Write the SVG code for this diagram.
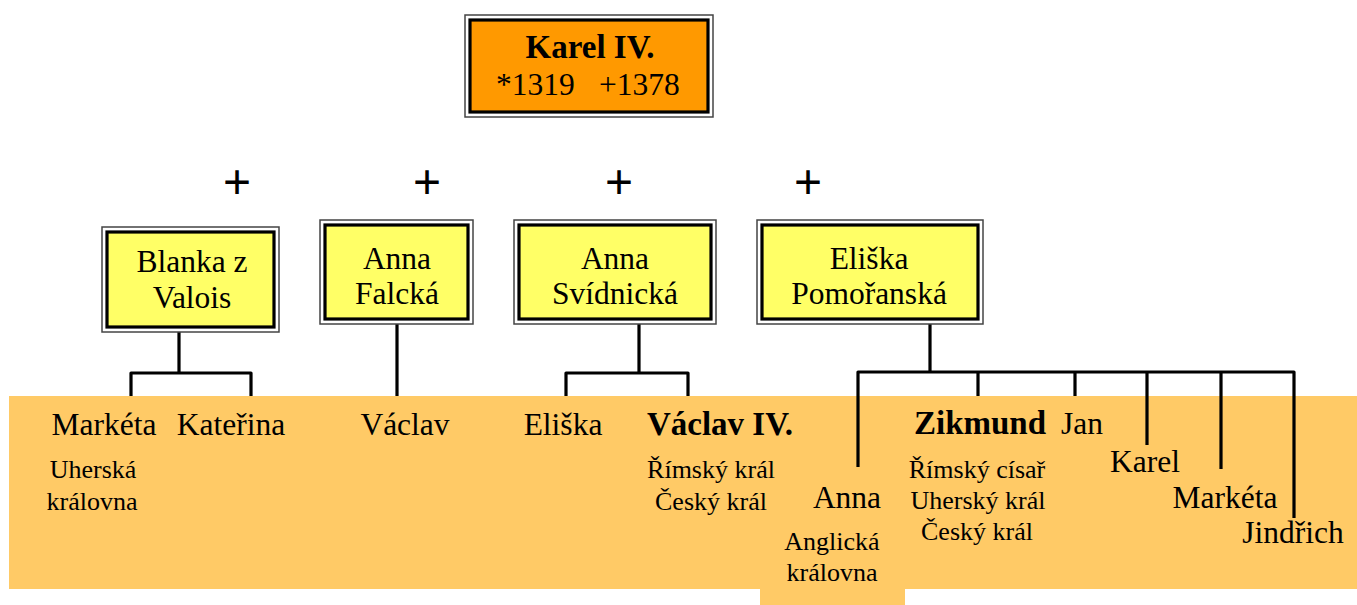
<svg xmlns="http://www.w3.org/2000/svg" width="1357" height="605" viewBox="0 0 1357 605">
<style>
.outer{fill:#fff;stroke:#444;stroke-width:1.5}
.inner{stroke:#000;stroke-width:3.2}
.yel{fill:#FFFF66}
.org{fill:#FF9900}
.t{font-family:"Liberation Serif","Times New Roman",serif;fill:#000;text-anchor:middle}
.big{font-size:31.5px}
.bigb{font-size:33px;font-weight:bold}
.box{font-size:31.5px}
.small{font-size:26px}
.b{font-weight:bold}
.plus{font-family:"Liberation Sans",Arial,sans-serif;font-size:48px;text-anchor:middle;fill:#000}
.c{fill:none;stroke:#000;stroke-width:3.2;stroke-linejoin:round}
</style>
<path id="band" d="M9,396 H1357 V589 H905 V605 H760 V589 H9 Z" fill="#FFCA66"/>
<g id="connectors">
<path class="c" d="M179,332 V373 M131,396 V373 H251 V396"/>
<path class="c" d="M397,324 V396"/>
<path class="c" d="M639,324 V373 M566,396 V373 H688 V396"/>
<path class="c" d="M930,324 V372 M858,467 V372 H1294 V518 M978,372 V396 M1075,372 V396 M1147,372 V445 M1221,372 V469"/>
</g>
<g id="karel">
<rect class="outer" x="465" y="15" width="248" height="102"/>
<rect class="inner org" x="470" y="20" width="238" height="92"/>
<text class="t bigb" x="590" y="58">Karel IV.</text>
<text class="t box" x="496" y="95" style="text-anchor:start">*1319</text>
<text class="t box" x="599" y="95" style="text-anchor:start">+1378</text>
</g>
<g id="plus-signs">
<text class="plus" x="237" y="198">+</text>
<text class="plus" x="427" y="198">+</text>
<text class="plus" x="619" y="198">+</text>
<text class="plus" x="808" y="198">+</text>
</g>
<g id="blanka">
<rect class="outer" x="102" y="227" width="177" height="105"/>
<rect class="inner yel" x="107" y="232" width="167" height="95"/>
<text class="t box" x="192" y="272">Blanka z</text>
<text class="t box" x="192" y="308">Valois</text>
</g>
<g id="anna-falcka">
<rect class="outer" x="320" y="220" width="153" height="104"/>
<rect class="inner yel" x="325" y="225" width="143" height="94"/>
<text class="t box" x="397" y="269">Anna</text>
<text class="t box" x="397" y="304">Falcká</text>
</g>
<g id="anna-svidnicka">
<rect class="outer" x="514" y="220" width="202" height="104"/>
<rect class="inner yel" x="519" y="225" width="192" height="94"/>
<text class="t box" x="615" y="269">Anna</text>
<text class="t box" x="615" y="304">Svídnická</text>
</g>
<g id="eliska-pomoranska">
<rect class="outer" x="757" y="220" width="226" height="104"/>
<rect class="inner yel" x="762" y="225" width="216" height="94"/>
<text class="t box" x="869" y="269">Eliška</text>
<text class="t box" x="869" y="304">Pomořanská</text>
</g>
<g id="marketa1">
<text class="t big" x="104" y="435">Markéta</text>
<text class="t small" x="93" y="478">Uherská</text>
<text class="t small" x="92" y="510">královna</text>
</g>
<g id="katerina"><text class="t big" x="231" y="435">Kateřina</text></g>
<g id="vaclav"><text class="t big" x="405" y="435">Václav</text></g>
<g id="eliska"><text class="t big" x="563" y="435">Eliška</text></g>
<g id="vaclav-iv">
<text class="t bigb" x="720" y="435">Václav IV.</text>
<text class="t small" x="711" y="478">Římský král</text>
<text class="t small" x="711" y="510">Český král</text>
</g>
<g id="anna">
<text class="t big" x="847" y="508">Anna</text>
<text class="t small" x="832" y="550">Anglická</text>
<text class="t small" x="832" y="581">královna</text>
</g>
<g id="zikmund">
<text class="t bigb" x="980" y="434">Zikmund</text>
<text class="t small" x="977" y="478">Římský císař</text>
<text class="t small" x="978" y="509">Uherský král</text>
<text class="t small" x="977" y="540">Český král</text>
</g>
<g id="jan"><text class="t big" x="1082" y="434">Jan</text></g>
<g id="karel-child"><text class="t big" x="1145" y="472">Karel</text></g>
<g id="marketa2"><text class="t big" x="1225" y="508">Markéta</text></g>
<g id="jindrich"><text class="t big" x="1293" y="543">Jindřich</text></g>
</svg>
